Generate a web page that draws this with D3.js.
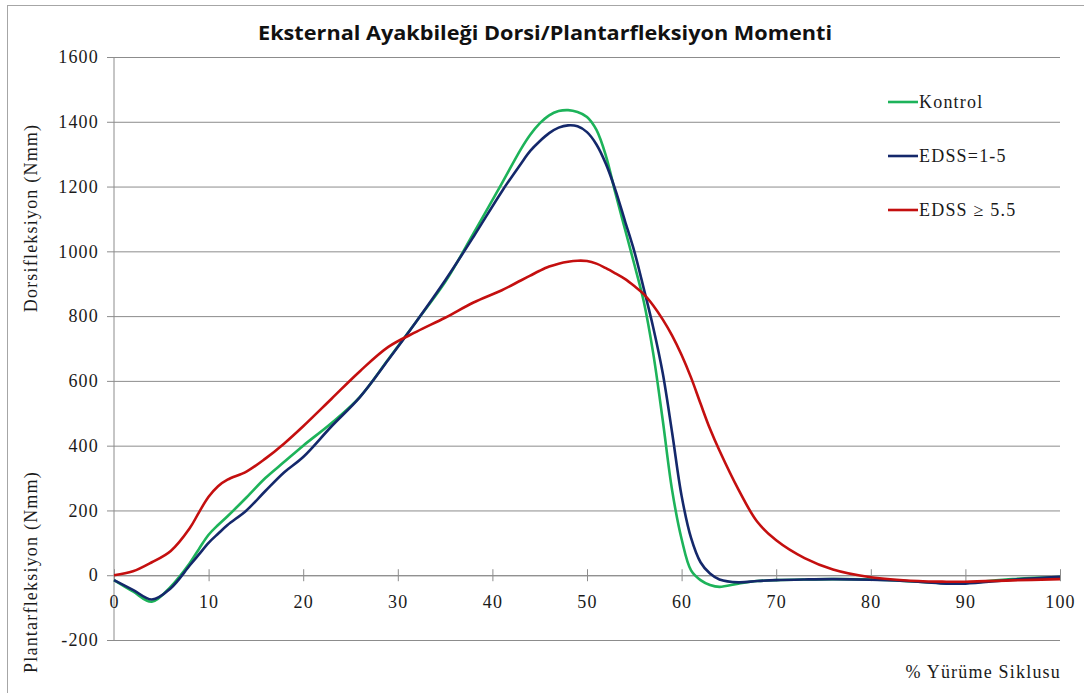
<!DOCTYPE html>
<html>
<head>
<meta charset="utf-8">
<script src="https://cdn.jsdelivr.net/npm/d3@7"></script>
<style>
  body { margin: 0; background: #fff; }
  svg { display: block; }
</style>
</head>
<body>
<div class="canvas"></div>
<script>
const svgWidth = 1084;
const svgHeight = 693;
const margin = { top: 57, right: 24, bottom: 53, left: 114 };
const graphWidth = svgWidth - margin.left - margin.right;
const graphHeight = svgHeight - margin.top - margin.bottom;

// % gait cycle sample points
const pct = [0, 2, 4, 6, 8, 9, 10, 11, 12, 14, 16, 18, 20, 23, 26, 29, 32, 35, 38, 41, 43, 44, 45, 46, 47, 48, 49, 50,
    51, 52, 53, 54, 55, 56, 57, 58, 59, 60, 61, 62, 63, 64, 66, 68, 70, 73, 76, 80, 85, 88, 90, 95, 100];

const kontrol = [-15, -50, -82, -35, 37, 82, 125, 155, 182, 240, 300, 350, 400, 470, 551, 667, 785, 905, 1055, 1210, 1315, 1360, 1395, 1420, 1433, 1436, 1430, 1415,
    1375, 1295, 1180, 1070, 960, 845, 685, 480, 262, 112, 15, -15, -30, -36, -26, -18, -15, -13, -12, -13, -20, -25, -24, -12, -6];

const edss15 = [-15, -45, -75, -40, 30, 65, 100, 128, 155, 200, 260, 318, 365, 460, 550, 665, 785, 910, 1045, 1185, 1270, 1310, 1340, 1365, 1382, 1389, 1386, 1368,
    1330, 1270, 1190, 1095, 1000, 885, 765, 625, 440, 245, 115, 40, 5, -13, -22, -18, -15, -13, -12, -14, -20, -26, -26, -14, -5];

const edss55 = [0, 12, 40, 75, 145, 195, 242, 275, 295, 320, 360, 407, 460, 545, 630, 705, 752, 795, 842, 880, 910, 925, 940, 953, 962, 968, 971, 970,
    962, 948, 932, 915, 893, 868, 833, 790, 740, 680, 610, 530, 452, 385, 265, 165, 108, 53, 18, -6, -18, -20, -20, -16, -12];

const seriesNames = ['Kontrol', 'EDSS=1-5', 'EDSS \u2265 5.5'];
const seriesColors = ['#1db35a', '#14286b', '#c40f0f'];
const seriesValues = [kontrol, edss15, edss55];

const xTicks = [0, 10, 20, 30, 40, 50, 60, 70, 80, 90, 100];
const yTicks = [-200, 0, 200, 400, 600, 800, 1000, 1200, 1400, 1600];

const serif = 'Liberation Serif';
const textStyle = sel => sel
    .attr('font-family', serif)
    .attr('font-size', 18)
    .attr('letter-spacing', 1.2);

const svg = d3.select('.canvas')
    .append('svg')
        .attr('width', svgWidth)
        .attr('height', svgHeight);

// outer frame
svg.append('rect')
    .attr('x', 7.5).attr('y', 5.5)
    .attr('width', svgWidth + 10).attr('height', svgHeight + 10)
    .attr('fill', 'none')
    .attr('stroke', '#a6a6a6');

const g = svg.append('g')
    .attr('transform', `translate(${margin.left}, ${margin.top})`);

// Scale setup:
const x = d3.scaleLinear().domain([0, 100]).range([0, graphWidth]);
const y = d3.scaleLinear().domain([-200, 1600]).range([graphHeight, 0]);

// grid + y axis
const yAxis = d3.axisLeft(y)
    .tickValues(yTicks)
    .tickSize(-graphWidth)
    .tickSizeOuter(0)
    .tickFormat(d => String(d));

const yAxisGroup = g.append('g')
    .attr('class', 'y-axis')
    .call(yAxis)
    .call(textStyle);

yAxisGroup.select('.domain').remove();
yAxisGroup.selectAll('.tick line')
    .attr('x1', -7)
    .attr('stroke', '#8c8c8c');
yAxisGroup.selectAll('.tick text')
    .attr('x', -15)
    .attr('fill', '#1a1a1a');

// vertical axis line
g.append('line')
    .attr('x1', x(0)).attr('x2', x(0))
    .attr('y1', 0).attr('y2', graphHeight)
    .attr('stroke', '#8c8c8c');

// x axis at zero
const xAxis = d3.axisBottom(x)
    .tickValues(xTicks)
    .tickSize(6)
    .tickSizeOuter(0)
    .tickPadding(14);

const xAxisGroup = g.append('g')
    .attr('class', 'x-axis')
    .attr('transform', `translate(0, ${y(0)})`)
    .call(xAxis)
    .call(textStyle);

xAxisGroup.select('.domain').attr('stroke', '#8c8c8c');
xAxisGroup.selectAll('.tick line')
    .attr('y1', -6).attr('y2', 6)
    .attr('stroke', '#8c8c8c');
xAxisGroup.selectAll('.tick text')
    .attr('fill', '#1a1a1a');

// lines
const line = d3.line()
    .x((d, i) => x(pct[i]))
    .y(d => y(d))
    .curve(d3.curveCatmullRom.alpha(0.5));

seriesValues.forEach((vals, i) => {
    g.append('path')
        .datum(vals)
        .attr('fill', 'none')
        .attr('stroke', seriesColors[i])
        .attr('stroke-width', 2.6)
        .attr('d', line);
});

// legend
const legend = svg.append('g')
    .attr('transform', 'translate(888, 102)')
    .call(textStyle);

seriesNames.forEach((name, i) => {
    const row = legend.append('g').attr('transform', `translate(0, ${i * 54})`);
    row.append('line')
        .attr('x1', 0).attr('x2', 30)
        .attr('stroke', seriesColors[i])
        .attr('stroke-width', 2.6);
    row.append('text')
        .attr('x', 31).attr('y', 6)
        .attr('fill', '#1a1a1a')
        .text(name);
});

// title
svg.append('text')
    .attr('x', 545).attr('y', 40)
    .attr('text-anchor', 'middle')
    .attr('textLength', 574)
    .attr('lengthAdjust', 'spacingAndGlyphs')
    .attr('font-family', 'Open Sans')
    .attr('font-weight', 'bold')
    .attr('font-size', 20)
    .attr('fill', '#111')
    .text('Eksternal Ayakbileği Dorsi/Plantarfleksiyon Momenti');

// axis titles
const titles = svg.append('g')
    .call(textStyle)
    .attr('fill', '#1a1a1a');

titles.append('text')
    .attr('transform', 'translate(37, 218) rotate(-90)')
    .attr('text-anchor', 'middle')
    .text('Dorsifleksiyon (Nmm)');

titles.append('text')
    .attr('transform', 'translate(37, 572) rotate(-90)')
    .attr('text-anchor', 'middle')
    .text('Plantarfleksiyon (Nmm)');

titles.append('text')
    .attr('x', 1061).attr('y', 678)
    .attr('text-anchor', 'end')
    .text('% Yürüme Siklusu');
</script>
</body>
</html>
